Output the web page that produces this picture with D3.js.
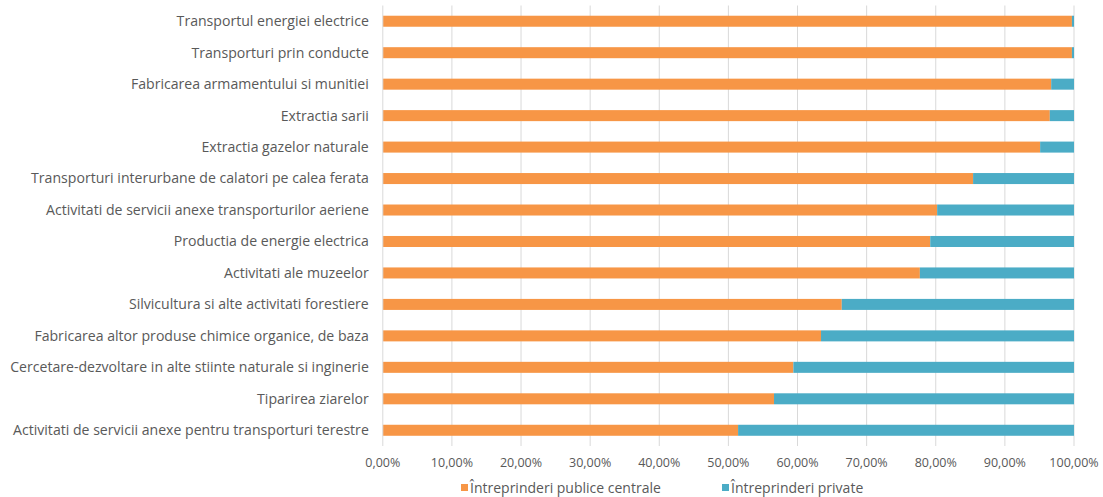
<!DOCTYPE html>
<html>
<head>
<meta charset="utf-8">
<script src="https://cdn.jsdelivr.net/npm/d3@7"></script>
<style>
  body { margin: 0; background: #fff; }
  svg text { font-family: "Open Sans", "Noto Sans", sans-serif; fill: #595959; }
</style>
</head>
<body>
<div class="chart"></div>
<script>
// categories, top to bottom
const categories = [
    "Transportul energiei electrice",
    "Transporturi prin conducte",
    "Fabricarea armamentului si munitiei",
    "Extractia sarii",
    "Extractia gazelor naturale",
    "Transporturi interurbane de calatori pe calea ferata",
    "Activitati de servicii anexe transporturilor aeriene",
    "Productia de energie electrica",
    "Activitati ale muzeelor",
    "Silvicultura si alte activitati forestiere",
    "Fabricarea altor produse chimice organice, de baza",
    "Cercetare-dezvoltare in alte stiinte naturale si inginerie",
    "Tiparirea ziarelor",
    "Activitati de servicii anexe pentru transporturi terestre"
];
// share of central public enterprises (%)
const publice = [99.7, 99.7, 96.7, 96.5, 95.1, 85.4, 80.2, 79.2, 77.7, 66.4, 63.4, 59.4, 56.6, 51.4];
// share of private enterprises (%)
const private_ = [0.3, 0.3, 3.3, 3.5, 4.9, 14.6, 19.8, 20.8, 22.3, 33.6, 36.6, 40.6, 43.4, 48.6];
const seriesNames = ["Întreprinderi publice centrale", "Întreprinderi private"];
const xTicks = [0, 10, 20, 30, 40, 50, 60, 70, 80, 90, 100];

const colors = ["#F79646", "#4BACC6"];

const width = 1103, height = 497;
const margin = {top: 5.5, right: 29, bottom: 51, left: 382.8};
const plotW = width - margin.left - margin.right;
const plotH = height - margin.top - margin.bottom;

const svg = d3.select(".chart").append("svg")
    .attr("width", width)
    .attr("height", height);

const g = svg.append("g")
    .attr("transform", `translate(${margin.left},${margin.top})`);

const x = d3.scaleLinear().domain([0, 100]).range([0, plotW]);
const y = d3.scaleBand().domain(categories).range([0, plotH]).paddingInner(0.65).paddingOuter(0.325);

// gridlines
g.selectAll(".grid")
    .data(xTicks.slice(1))
    .enter()
    .append("line")
    .attr("x1", d => x(d)).attr("x2", d => x(d))
    .attr("y1", 0).attr("y2", plotH)
    .attr("stroke", "#d9d9d9")
    .attr("stroke-width", 1);

// stacked bars
const rows = categories.map((c, i) => ({cat: c, vals: [publice[i], private_[i]]}));
const stack = d3.stack().keys([0, 1]).value((d, k) => d.vals[k]);
const stacked = stack(rows);

g.selectAll(".series")
    .data(stacked)
    .enter()
    .append("g")
    .attr("fill", (d, i) => colors[i])
    .selectAll("rect")
    .data(d => d)
    .enter()
    .append("rect")
    .attr("x", d => x(d[0]))
    .attr("width", d => x(d[1]) - x(d[0]))
    .attr("y", d => y(d.data.cat))
    .attr("height", y.bandwidth());

// vertical axis line
g.append("line")
    .attr("x1", 0).attr("x2", 0)
    .attr("y1", 0).attr("y2", plotH)
    .attr("stroke", "#d9d9d9");

// category labels
g.selectAll(".cat")
    .data(categories)
    .enter()
    .append("text")
    .attr("x", -14)
    .attr("y", d => y(d) + y.bandwidth() / 2)
    .attr("dy", "0.35em")
    .attr("text-anchor", "end")
    .style("font-size", "14.1px")
    .text(d => d);

// x tick labels
const fmt = v => v.toFixed(2).replace(".", ",") + "%";
g.selectAll(".xt")
    .data(xTicks)
    .enter()
    .append("text")
    .attr("x", d => x(d))
    .attr("y", plotH + 17)
    .attr("dy", "0.35em")
    .attr("text-anchor", "middle")
    .style("font-size", "12.5px")
    .text(fmt);

// legend
const legendX = [461, 722];
const legend = svg.selectAll(".legend")
    .data(seriesNames)
    .enter()
    .append("g")
    .attr("transform", (d, i) => `translate(${legendX[i]},484)`);

legend.append("rect")
    .attr("width", 7).attr("height", 7)
    .attr("fill", (d, i) => colors[i]);

legend.append("text")
    .attr("x", 9)
    .attr("y", 4)
    .attr("dy", "0.35em")
    .style("font-size", "14px")
    .text(d => d);
</script>
</body>
</html>
